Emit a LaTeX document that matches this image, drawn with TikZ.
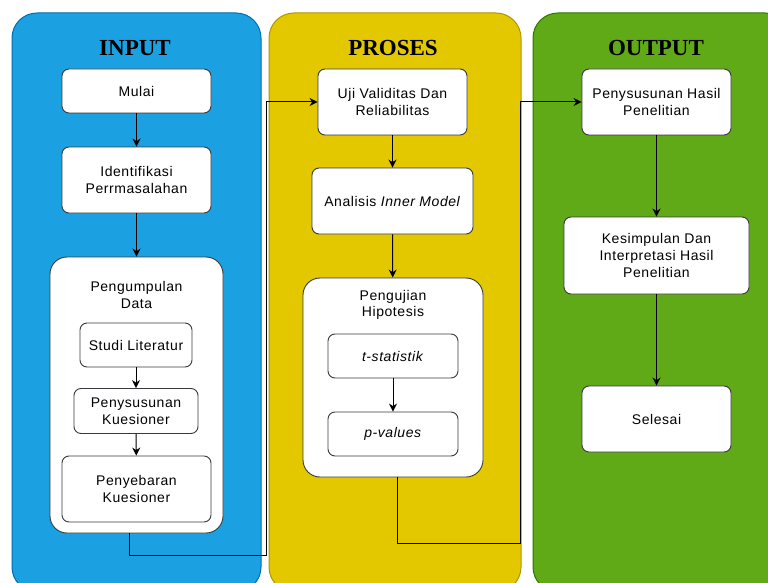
\documentclass[tikz,border=0pt]{standalone}
\usepackage{fontspec}
\setmainfont{Liberation Serif}
\setsansfont{Liberation Sans}
\newfontfamily\boxfont[LetterSpace=4]{Liberation Sans}
\usetikzlibrary{arrows.meta, positioning, calc}
\definecolor{inFill}{RGB}{27,161,226}
\definecolor{inEdge}{RGB}{0,110,175}
\definecolor{prFill}{RGB}{227,200,0}
\definecolor{prEdge}{RGB}{176,149,0}
\definecolor{outFill}{RGB}{96,169,23}
\definecolor{outEdge}{RGB}{45,118,0}
\definecolor{boxEdge}{RGB}{54,57,61}

\begin{document}
\begin{tikzpicture}[
    x=1pt, y=-1pt,
    panel/.style={rounded corners=25pt, line width=1pt},
    ttl/.style={font=\rmfamily\bfseries\fontsize{23}{26}\selectfont},
    stepbox/.style={rectangle, draw=boxEdge, fill=white, rounded corners=7pt, line width=0.9pt, align=center, inner sep=0pt, font=\boxfont\fontsize{14}{16.7}\selectfont},
    groupbox/.style={stepbox, rounded corners=17pt},
    txt/.style={align=center, inner sep=0pt, font=\boxfont\fontsize{14}{16.7}\selectfont},
    arr/.style={-{Stealth[length=8pt, width=8pt]}, line width=1pt, black},
]
\useasboundingbox (0,0) rectangle (768,583);
\clip (0,0) rectangle (768,583);

% ========== PANELS ==========
\draw[panel, fill=inFill, draw=inEdge] (12,13) rectangle (261,592);
\draw[panel, fill=prFill, draw=prEdge] (269,13) rectangle (521,592);
\draw[panel, fill=outFill, draw=outEdge] (533,13) rectangle (790,592);

\node[ttl] at (135,48) (t_in) {INPUT};
\node[ttl] at (393,48) (t_pr) {PROSES};
\node[ttl] at (656,48) (t_out) {OUTPUT};

% ========== INPUT ==========
\node[stepbox, minimum width=149, minimum height=44] at (136.5,91) (mulai) {Mulai};
\node[stepbox, minimum width=149, minimum height=66] at (136.5,180) (ident) {Identifikasi\\Perrmasalahan};
\node[groupbox, minimum width=173, minimum height=276] at (136.5,395) (kumpul) {};
\node[txt] at (136.5,295) (kumpul_t) {Pengumpulan\\Data};
\node[stepbox, minimum width=112, minimum height=44] at (136,345) (studi) {Studi Literatur};
\node[stepbox, minimum width=124, minimum height=45] at (136,411) (kuesA) {Penysusunan\\Kuesioner};
\node[stepbox, minimum width=149, minimum height=66] at (136.5,489) (kuesB) {Penyebaran\\Kuesioner};

\draw[arr] (mulai) -- (ident);
\draw[arr] (ident) -- (kumpul);
\draw[arr] (studi) -- (kuesA);
\draw[arr] (kuesA) -- (kuesB);

% ========== PROSES ==========
\node[stepbox, minimum width=149, minimum height=66] at (392.5,102) (uji) {Uji Validitas Dan\\Reliabilitas};
\node[stepbox, minimum width=161, minimum height=66] at (392.5,201) (inner) {Analisis \textit{Inner Model}};
\node[groupbox, minimum width=180, minimum height=199] at (393,377.5) (hipo) {};
\node[txt] at (393,305) (hipo_t) {Pengujian\\Hipotesis};
\node[stepbox, minimum width=130, minimum height=44] at (393,356) (tstat) {\textit{t-statistik}};
\node[stepbox, minimum width=130, minimum height=44] at (393,434) (pval) {\textit{p-values}};

\draw[arr] (uji) -- (inner);
\draw[arr] (inner) -- (hipo);
\draw[arr] (tstat) -- (pval);

% ========== OUTPUT ==========
\node[stepbox, minimum width=149, minimum height=66] at (656.5,102) (susun) {Penysusunan Hasil\\Penelitian};
\node[stepbox, minimum width=185, minimum height=77] at (656.5,255.5) (simpul) {Kesimpulan Dan\\Interpretasi Hasil\\Penelitian};
\node[stepbox, minimum width=149, minimum height=66] at (656.5,419) (selesai) {Selesai};

\draw[arr] (susun) -- (simpul);
\draw[arr] (simpul) -- (selesai);

% ========== CONNECTIONS between panels ==========
\coordinate (bendA) at (266,555);
\draw[arr] ([xshift=-7pt]kumpul.south) |- (bendA) |- (uji.west);

\coordinate (bendB) at (520,543);
\draw[arr] ([xshift=4pt]hipo.south) |- (bendB) |- (susun.west);

\end{tikzpicture}
\end{document}
